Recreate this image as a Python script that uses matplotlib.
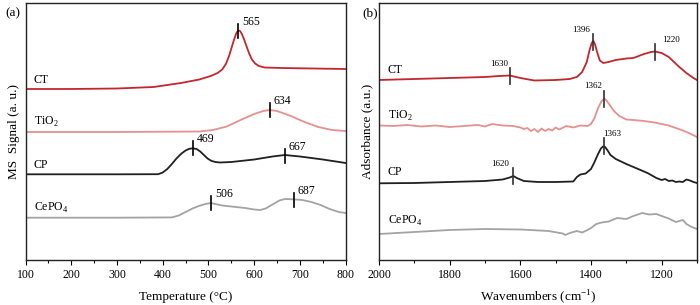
import numpy as np
import matplotlib
matplotlib.use('Agg')
import matplotlib.pyplot as plt
from matplotlib.ticker import MultipleLocator

plt.rcParams['font.family'] = ['Liberation Serif', 'DejaVu Serif']
plt.rcParams['mathtext.fontset'] = 'custom'
plt.rcParams['mathtext.rm'] = 'Liberation Serif'

# ---- (a) MS signal vs temperature (vertical offset in plot rows, axis inverted) ----
ct_T = [100, 200, 300, 380, 440, 480, 505, 520, 530, 538, 545, 551, 556, 561, 565, 569, 573,
        578, 583, 589, 595, 602, 610, 623, 660, 700, 800]
ct_y = [89, 89, 88.5, 87, 83, 79.5, 76, 73, 69.5, 64, 56, 47, 39.5, 33, 30.5, 31, 34,
        39.5, 46, 53.5, 59.5, 63.5, 66, 67.5, 68, 68.3, 69]

ti_T = [100, 300, 480, 510, 540, 570, 600, 620, 634, 650, 680, 710, 740, 770, 800]
ti_y = [132, 132, 131.5, 130, 126.5, 120, 114, 111, 110, 111, 116, 122, 127, 130, 131]

cp_T = [100, 300, 390, 400, 410, 420, 430, 441, 450, 458, 466, 474, 482, 490, 498, 506, 515,
        525, 550, 600, 640, 667, 700, 750, 800]
cp_y = [174.3, 174.3, 174.2, 172.5, 169, 164, 158.5, 153.5, 150.5, 148.8, 148.3, 149, 151.5,
        155, 158.5, 160.8, 162, 162.5, 162, 159.5, 156.5, 155, 156.5, 159.5, 163]

ce_T = [100, 300, 420, 435, 450, 465, 480, 495, 506, 515, 530, 550, 580, 600, 613, 625, 640,
        655, 667, 685, 705, 725, 745, 765, 785, 800]
ce_y = [217.7, 217.7, 217.4, 215.5, 212, 208.5, 205.8, 203.8, 203, 204, 205.5, 206.5, 208, 209.5,
        210, 208.5, 204.5, 200.5, 199, 199.3, 200, 202, 205, 209, 212, 213]

a_labels = ['CT', 'TiO$_2$', 'CP', 'CePO$_4$']
a_label_y = [80, 122, 165, 208]
a_peaks = [565, 634, 466, 667, 506, 687]
a_peak_y = [31, 110, 148, 155.5, 203, 199.5]
a_peak_txt = ['565', '634', '469', '667', '506', '687']

# ---- (b) IR absorbance vs wavenumber ----
b_ct_W = [2000, 1900, 1800, 1700, 1660, 1630, 1600, 1560, 1500, 1460, 1440, 1425, 1412, 1404,
          1398, 1393, 1388, 1382, 1375, 1365, 1350, 1330, 1300, 1280, 1250, 1230, 1219, 1200,
          1180, 1165, 1150, 1130, 1110, 1100]
b_ct_y = [80, 79, 78, 77, 76, 75.5, 78, 80.5, 80, 79, 77, 72, 62, 50,
          43, 41, 45, 53, 60.5, 63, 62, 60, 58.5, 58, 54, 52, 51.5, 53,
          57, 62, 67, 73, 78, 80]

b_ti_W = [2000, 1960, 1920, 1880, 1840, 1800, 1760, 1720, 1700, 1680, 1650, 1620, 1600, 1590,
          1580, 1570, 1560, 1550, 1540, 1530, 1520, 1510, 1500, 1490, 1470, 1450, 1430, 1410, 1400,
          1390, 1380, 1370, 1362, 1355, 1345, 1335, 1320, 1300, 1280, 1250, 1220, 1200, 1180, 1160,
          1140, 1120, 1100]
b_ti_y = [125.5, 126, 125, 126.5, 125.5, 127, 126, 125, 126.5, 124, 125.5, 126, 127.5, 129,
          128, 131, 129, 132, 128.5, 131, 129, 130.5, 127.5, 129.5, 126, 127.5, 125.5, 126, 124,
          118, 108, 101, 98.5, 101, 106, 111, 116, 119.5, 120, 121, 122.5, 124, 125.5, 128,
          130.5, 133.5, 137]

b_cp_W = [2000, 1900, 1800, 1700, 1650, 1630, 1620, 1610, 1590, 1550, 1500, 1450, 1440, 1430, 1415,
          1400, 1390, 1380, 1372, 1366, 1360, 1352, 1345, 1330, 1300, 1270, 1240, 1215, 1200, 1190,
          1180, 1170, 1160, 1150, 1140, 1130, 1120, 1110, 1100]
b_cp_y = [183.3, 183, 182, 181, 179.5, 177.5, 176, 178, 181, 182, 182, 181.5, 177, 174.5, 173.5,
          169, 162, 154, 148.5, 146.5, 147, 151, 155, 159, 164, 168.5, 173, 178, 180, 179,
          181, 180.5, 182, 181.5, 182, 179.5, 180.5, 182, 183]

b_ce_W = [2000, 1900, 1800, 1700, 1600, 1520, 1480, 1473, 1460, 1440, 1425, 1410, 1400, 1385,
          1370, 1350, 1326, 1300, 1280, 1255, 1235, 1215, 1200, 1180, 1160, 1150, 1140, 1130, 1115, 1100]
b_ce_y = [234, 232, 230, 229, 229.5, 231, 233.5, 235, 233, 231, 232.5, 230, 228, 224,
          222.5, 221.5, 218, 219, 216, 213, 214.5, 214, 216, 218.5, 222, 221, 220, 224, 227, 229]

b_labels = ['CT', 'TiO$_2$', 'CP', 'CePO$_4$']
b_label_y = [70, 116, 172, 221]
b_peaks = [1630, 1393, 1219, 1362, 1363, 1620]
b_peak_y = [76, 42, 52, 98.5, 146, 176]
b_peak_txt = ['1630', '1396', '1220', '1362', '1363', '1620']

colors = ['#c1272d', '#e4918f', '#202020', '#a3a3a3']

fig = plt.figure(figsize=(7.0, 3.05), dpi=100)
ax1 = fig.add_axes([25.5 / 700, 1 - 260 / 305, 320.2 / 700, 257 / 305])
ax2 = fig.add_axes([379 / 700, 1 - 260 / 305, 318 / 700, 257 / 305])

for x, y, c in zip([ct_T, ti_T, cp_T, ce_T], [ct_y, ti_y, cp_y, ce_y], colors):
    ax1.plot(x, y, color=c, lw=1.3)
for lab, ly in zip(a_labels, a_label_y):
    ax1.text(118, ly, lab, fontsize=8.5, va='center', ha='left')
for px, py, t in zip(a_peaks, a_peak_y, a_peak_txt):
    ax1.plot([px, px], [py - 7, py + 7], color='black', lw=1.2)
    ax1.text(px + 8, py - 9, t, fontsize=8.5, ha='left', va='center')
ax1.set_xlim(100, 800)
ax1.set_ylim(260, 3)
ax1.xaxis.set_major_locator(MultipleLocator(100))
ax1.xaxis.set_minor_locator(MultipleLocator(50))
ax1.set_xlabel('Temperature (°C)', fontsize=9.5, labelpad=7)
ax1.set_ylabel('MS  Signal (a. u.)', fontsize=9.5, labelpad=4)
fig.text(5 / 700, 1 - 13 / 305, '(a)', fontsize=9.5, va='center')

for x, y, c in zip([b_ct_W, b_ti_W, b_cp_W, b_ce_W], [b_ct_y, b_ti_y, b_cp_y, b_ce_y], colors):
    ax2.plot(x, y, color=c, lw=1.3)
for lab, ly in zip(b_labels, b_label_y):
    ax2.text(1975, ly, lab, fontsize=8.5, va='center', ha='left')
for px, py, t in zip(b_peaks, b_peak_y, b_peak_txt):
    ax2.plot([px, px], [py - 8, py + 8], color='#303030', lw=1.2)
for px, py, t, dx in zip(b_peaks, b_peak_y, b_peak_txt, [30, 35, -45, 32, -22, 37]):
    ax2.text(px + dx, py - 12, t, fontsize=6.5, ha='center', va='center')
ax2.set_xlim(2000, 1100)
ax2.set_ylim(260, 3)
ax2.xaxis.set_major_locator(MultipleLocator(200))
ax2.xaxis.set_minor_locator(MultipleLocator(100))
ax2.set_xlabel('Wavenumbers (cm$^{-1}$)', fontsize=9.5, labelpad=5)
ax2.set_ylabel('Adsorbance (a.u.)', fontsize=9.5, labelpad=4)
fig.text(362 / 700, 1 - 13 / 305, '(b)', fontsize=9.5, va='center')

for ax in (ax1, ax2):
    ax.set_yticks([])
    ax.tick_params(axis='x', which='major', direction='out', length=3.5, width=0.8, labelsize=8.5, pad=3)
    ax.tick_params(axis='x', which='minor', direction='out', length=2, width=0.8)
    for s in ax.spines.values():
        s.set_linewidth(1.0)
        s.set_color('#222222')

fig.savefig('out.png', dpi=100)
